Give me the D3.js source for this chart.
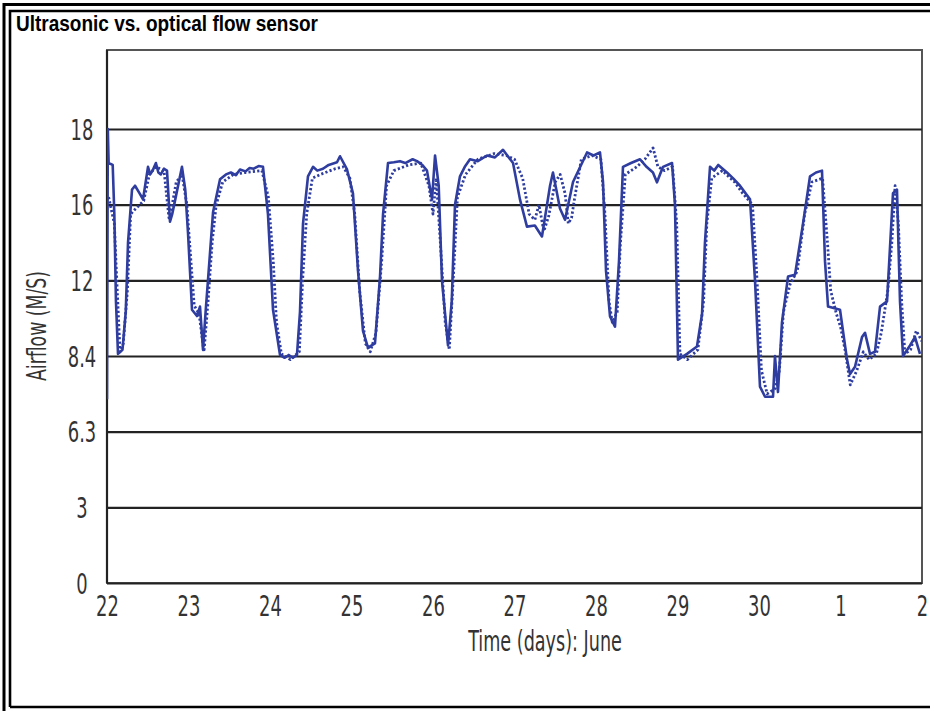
<!DOCTYPE html>
<html>
<head>
<meta charset="utf-8">
<script src="https://cdn.jsdelivr.net/npm/d3@7"></script>
<style>
body{margin:0;background:#fff;}
svg{display:block;}
.lbl{font-family:"DejaVu Sans",sans-serif;fill:#333;}
</style>
</head>
<body>
<svg id="chart" width="930" height="711"></svg>
<script>
// y ticks are evenly spaced on the original chart even though the values are not
var yTicks = [0, 3, 6.3, 8.4, 12, 16, 18];
// days after June 22
var xTicks = [0, 1, 2, 3, 4, 5, 6, 7, 8, 9, 10];
var xLabels = ['22', '23', '24', '25', '26', '27', '28', '29', '30', '1', '2'];

// solid trace [day, m/s]
var ultrasonic = [
  [0.00,7.2],[0.01,18.0],[0.02,17.1],[0.07,17.05],[0.09,15.5],[0.11,11.0],[0.135,8.5],[0.19,8.7],
  [0.23,10.5],[0.258,14.0],[0.307,16.4],[0.344,16.5],[0.40,16.3],[0.442,16.14],[0.503,17.0],[0.53,16.8],[0.56,16.9],
  [0.60,17.1],[0.63,16.85],[0.66,16.8],[0.70,16.95],[0.736,16.9],[0.773,15.1],[0.80,15.5],[0.834,16.1],[0.92,17.0],[0.96,16.4],
  [0.994,14.5],[1.043,10.6],[1.104,10.3],[1.141,10.75],[1.178,8.7],[1.21,10.5],[1.239,12.0],[1.301,15.6],
  [1.387,16.67],[1.46,16.8],[1.52,16.85],[1.58,16.78],[1.632,16.93],[1.70,16.88],[1.75,16.97],[1.80,16.95],[1.86,17.02],[1.914,17.0],[1.975,15.5],[2.037,10.6],[2.123,8.45],
  [2.18,8.35],[2.23,8.45],[2.28,8.35],[2.331,8.45],[2.368,10.5],[2.405,15.0],[2.466,16.75],[2.528,17.0],[2.58,16.9],[2.65,16.95],[2.72,17.05],[2.822,17.12],
  [2.859,17.28],[2.945,16.93],[3.018,16.3],[3.08,12.5],[3.141,9.6],[3.202,8.8],[3.288,9.0],[3.35,12.2],
  [3.387,15.5],[3.448,17.1],[3.52,17.12],[3.595,17.15],[3.66,17.1],[3.75,17.2],[3.804,17.15],[3.87,17.05],[3.926,16.9],[3.988,16.14],[4.025,17.3],
  [4.07,16.5],[4.11,12.0],[4.184,8.9],[4.23,11.0],[4.27,16.0],[4.331,16.75],[4.39,17.0],[4.454,17.2],[4.55,17.15],[4.663,17.3],
  [4.76,17.25],[4.859,17.45],[4.982,17.1],[5.067,16.14],[5.153,14.84],[5.25,14.9],[5.337,14.32],[5.436,16.5],[5.472,16.85],
  [5.558,15.8],[5.62,15.2],[5.718,16.6],[5.89,17.38],[5.97,17.3],[6.049,17.38],[6.086,16.6],[6.123,12.5],[6.172,10.28],
  [6.233,9.8],[6.282,13.0],[6.331,17.0],[6.43,17.1],[6.54,17.2],[6.62,17.0],[6.699,16.85],[6.748,16.59],[6.822,17.0],[6.933,17.1],
  [6.969,16.0],[7.006,8.3],[7.117,8.5],[7.239,8.85],[7.301,10.4],[7.337,14.0],[7.399,17.0],[7.45,16.9],[7.5,17.05],
  [7.607,16.85],[7.68,16.7],[7.767,16.5],[7.89,16.14],[7.951,12.0],[8.012,7.55],[8.074,7.27],[8.172,7.27],[8.196,8.4],
  [8.233,7.4],[8.282,10.0],[8.356,12.2],[8.442,12.3],[8.54,15.0],[8.626,16.75],[8.70,16.85],[8.773,16.9],[8.81,13.0],
  [8.847,10.75],[8.994,10.6],[9.08,8.3],[9.117,7.9],[9.178,8.1],[9.264,9.3],[9.301,9.5],[9.362,8.5],
  [9.423,8.6],[9.485,10.75],[9.571,11.0],[9.644,16.3],[9.693,16.4],[9.73,11.0],[9.767,8.4],[9.853,8.9],
  [9.914,9.3],[9.975,8.5]
];

// dotted trace [day, m/s]
var optical = [
  [0.02,16.2],[0.05,15.8],[0.09,15.0],[0.12,12.0],[0.16,8.6],[0.20,9.0],[0.25,11.5],[0.29,15.5],
  [0.33,15.7],[0.38,15.9],[0.45,16.1],[0.52,16.8],[0.60,17.0],[0.70,16.9],[0.76,15.3],[0.80,16.0],
  [0.85,16.6],[0.92,16.8],[0.98,16.0],[1.03,13.0],[1.07,10.8],[1.13,10.4],[1.19,8.6],[1.24,11.0],
  [1.29,14.0],[1.34,16.0],[1.42,16.6],[1.55,16.8],[1.70,16.85],[1.90,16.9],[1.98,16.2],[2.04,13.0],
  [2.08,10.0],[2.14,8.5],[2.25,8.3],[2.36,8.6],[2.40,12.0],[2.45,15.5],[2.52,16.7],[2.62,16.8],
  [2.80,16.95],[2.90,17.0],[2.98,16.7],[3.04,15.5],[3.10,11.5],[3.17,9.0],[3.23,8.6],[3.30,9.5],
  [3.37,13.0],[3.43,16.5],[3.52,16.9],[3.70,17.05],[3.85,17.1],[3.95,16.5],[4.00,15.5],[4.04,16.7],
  [4.09,14.0],[4.15,10.0],[4.20,8.7],[4.26,13.0],[4.30,16.2],[4.40,16.8],[4.55,17.2],[4.75,17.35],
  [4.90,17.3],[5.00,17.2],[5.10,16.7],[5.18,15.5],[5.25,15.2],[5.30,16.0],[5.36,14.6],[5.42,15.4],
  [5.50,16.6],[5.56,16.8],[5.62,16.3],[5.66,15.0],[5.70,15.3],[5.74,16.2],[5.82,17.2],[5.95,17.3],
  [6.06,17.2],[6.11,15.5],[6.16,11.0],[6.20,10.0],[6.26,10.5],[6.30,14.0],[6.36,16.8],[6.50,17.0],
  [6.60,17.2],[6.70,17.5],[6.76,17.0],[6.84,16.9],[6.94,17.0],[6.99,15.0],[7.03,8.5],[7.12,8.3],
  [7.25,8.7],[7.32,11.0],[7.36,15.0],[7.42,16.7],[7.55,16.9],[7.70,16.6],[7.80,16.3],[7.92,16.0],
  [7.97,12.5],[8.03,8.0],[8.10,7.35],[8.20,7.5],[8.25,8.0],[8.30,10.5],[8.38,11.8],[8.47,12.5],
  [8.56,15.5],[8.65,16.6],[8.78,16.7],[8.84,14.0],[8.88,11.5],[8.95,10.4],[9.00,9.8],[9.06,8.6],
  [9.12,7.6],[9.20,8.0],[9.28,8.6],[9.35,8.3],[9.44,8.5],[9.50,9.5],[9.58,11.5],[9.63,14.0],
  [9.67,16.5],[9.71,15.0],[9.75,11.0],[9.79,8.5],[9.86,8.7],[9.93,9.6],[10.0,9.1]
];

var box = {l:107, r:922, t:50, b:583};
var narrow = 0.64;   // squeeze DejaVu into a condensed look
var svg = d3.select('#chart');

// double frame, cut off at right and bottom edges
var frame = svg.append('g').attr('fill','none').attr('stroke','#000');
frame.append('path').attr('stroke-width',3).attr('d','M4,711 V4.5 H930');
frame.append('path').attr('stroke-width',2.6).attr('d','M10,707 V11 H930 M10,707 H930');

svg.append('text')
  .attr('x',16).attr('y',31)
  .attr('font-family','"Liberation Sans", Arial, sans-serif')
  .attr('font-weight','bold').attr('font-size',22.5)
  .attr('textLength',302).attr('lengthAdjust','spacingAndGlyphs')
  .attr('fill','#000')
  .text('Ultrasonic vs. optical flow sensor');

var x = d3.scaleLinear().domain([0,10]).range([box.l, box.r]);
var step = (box.b - 129) / (yTicks.length - 1);
var y = d3.scaleLinear()
  .domain(yTicks)
  .range(yTicks.map(function(d,i){ return box.b - i*step; }));

var plot = svg.append('g');

// box
plot.append('rect')
  .attr('x',box.l).attr('y',box.t)
  .attr('width',box.r-box.l).attr('height',box.b-box.t)
  .attr('fill','#fff').attr('stroke','#555').attr('stroke-width',2);

// grid
var yAxis = d3.axisLeft(y).tickValues(yTicks)
  .tickSize(-(box.r-box.l)).tickPadding(0)
  .tickFormat(function(d){ return d; });
var gy = plot.append('g').attr('transform','translate('+box.l+',0)').call(yAxis);
gy.select('.domain').remove();
gy.selectAll('.tick line').attr('stroke','#222').attr('stroke-width',2.2);
gy.selectAll('.tick text')
  .attr('class','lbl').attr('x',-25/narrow).attr('text-anchor','middle')
  .attr('transform','scale('+narrow+',1)')
  .attr('font-size',28).attr('dy','0.36em');

var xAxis = d3.axisBottom(x).tickValues(xTicks).tickSize(0).tickPadding(0)
  .tickFormat(function(d,i){ return xLabels[i]; });
var gx = plot.append('g').attr('transform','translate(0,'+box.b+')').call(xAxis);
gx.select('.domain').remove();
gx.selectAll('.tick text')
  .attr('class','lbl').attr('y',33).attr('dy',0)
  .attr('transform','scale('+narrow+',1)')
  .attr('font-size',28);

// left axis line
plot.append('line')
  .attr('x1',box.l).attr('x2',box.l).attr('y1',box.t).attr('y2',box.b)
  .attr('stroke','#222').attr('stroke-width',2.2);

svg.append('clipPath').attr('id','clip').append('rect')
  .attr('x',box.l).attr('y',box.t).attr('width',box.r-box.l).attr('height',box.b-box.t);

var line = d3.line().x(function(d){ return x(d[0]); }).y(function(d){ return y(d[1]); });

var lines = plot.append('g').attr('clip-path','url(#clip)')
  .attr('fill','none').attr('stroke','#2e3d9f').attr('stroke-linejoin','round');
lines.append('path').datum(optical).attr('d',line)
  .attr('stroke-width',2.8).attr('stroke-dasharray','2.2,2.2');
lines.append('path').datum(ultrasonic).attr('d',line)
  .attr('stroke-width',2.6);

// axis titles
svg.append('text').attr('class','lbl')
  .attr('transform','translate(545,651) scale('+narrow+',1)')
  .attr('text-anchor','middle').attr('font-size',27.5)
  .text('Time (days): June');

svg.append('text').attr('class','lbl')
  .attr('transform','translate(46,326) rotate(-90) scale('+narrow+',1)')
  .attr('text-anchor','middle').attr('font-size',27)
  .text('Airflow (M/S)');
</script>
</body>
</html>
